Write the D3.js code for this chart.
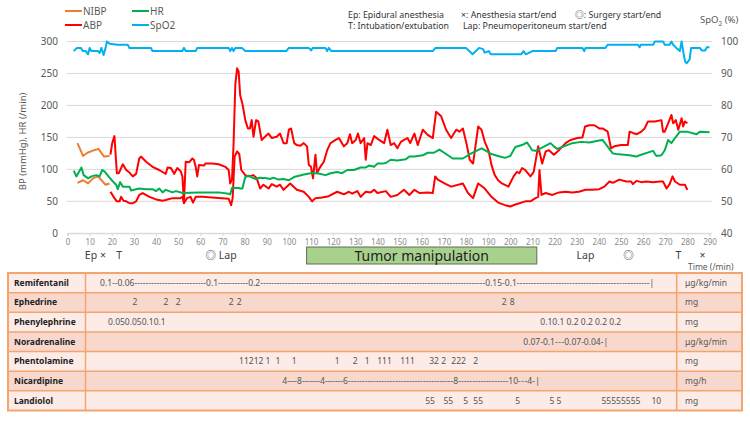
<!DOCTYPE html>
<html>
<head>
<meta charset="utf-8">
<script src="https://cdn.jsdelivr.net/npm/d3@7"></script>
<style>
  body { margin: 0; background: #fff; }
  svg { display: block; font-family: "Noto Sans", "Noto Sans CJK JP", sans-serif; }
</style>
</head>
<body>
<svg id="chart"></svg>
<script>
// vital signs, [time (min), value]
const nibpSys = [[4.5,141],[7,121],[9,126],[12,130],[14,132],[16.5,120],[19,121]];
const nibpDia = [[4.5,79],[7,83],[9.3,78],[11.5,86],[13.8,89],[17.2,76],[19,78]];

const abpSys = [[19.4,123],[20.2,141],[21.2,152],[22.3,94],[23.2,94],[25,108],[26.5,99],[28,95],[29.5,89],[31,93],
  [32.4,117],[33.2,120],[35.5,112],[38.4,104],[41.4,99],[44.4,93],[45.2,103],[46.7,102],[48.2,93],[49.6,102],
  [51.1,97],[51.9,89],[52.6,48],[53.4,112],[54.9,111],[56.4,117],[57.1,115],[57.9,104],[58.6,89],[59.4,107],
  [61.6,106],[62.3,109],[65.3,109],[68.3,108],[71.3,104],[72.8,99],[73.5,78],[74.3,84],[75,138],[75.8,232],
  [76.6,258],[77.3,253],[78,216],[79.1,201],[80.3,177],[81.5,164],[82.4,164],[83.2,177],[84,151],[85.2,177],
  [86.2,175],[87.7,146],[89.2,151],[90.8,156],[92.3,149],[94.5,151],[96,156],[97.6,141],[99,141],[100,162],
  [101,164],[102.4,141],[103.6,138],[105.2,137],[106.7,141],[108.2,136],[109,107],[110,104],[110.9,86],[112,123],
  [112.7,94],[114.2,104],[115.8,112],[117.3,130],[118.8,141],[121.1,146],[122.6,149],[124.8,136],[126.4,141],[127.6,155],
  [128.6,141],[130.2,146],[131.2,156],[132.4,141],[134,149],[134.7,115],[135.5,141],[137,138],[138.5,152],[140.8,146],
  [143,141],[144.5,162],[146,138],[147.6,141],[149,133],[150.6,143],[152,146],[153.6,149],[154.8,141],[156.7,156],
  [158.2,138],[160.5,162],[162.7,154],[165,149],[166.5,190],[168.8,183],[171,162],[173.3,149],[175.6,162],[177.1,159],
  [178.6,164],[180.2,141],[181.7,115],[183.2,109],[185.5,167],[187,162],[188.5,143],[190.3,128],[191.5,107],[193,91],
  [194.5,83],[196.2,78],[199.2,73],[201.5,89],[203,96],[204.1,94],[205.3,102],[206.8,99],[209.1,89],[210.6,96],
  [212.6,136],[213.7,120],[214.4,109],[216,128],[217.5,130],[219.7,123],[222,130],[225,141],[227.3,146],[230.3,149],
  [232.6,150],[233.8,167],[235.7,169],[238,169],[240.2,164],[241.7,164],[244,159],[245.5,133],[247,136],[250,138],
  [253.1,138],[253.9,159],[255.4,157],[257.2,155],[259.2,159],[260.7,164],[262.2,175],[265.3,175],[268.3,177],[269,159],
  [269.8,159],[271.3,172],[272.8,185],[273.6,172],[274.8,177],[275.9,162],[277.4,180],[278.1,167],[278.9,175],[280,172]];

const abpDia = [[19.4,65],[21.2,55],[22.3,50],[23.5,50],[24.2,57],[25.3,51],[26.5,50],[28,47],[29.5,47],[31,50],
  [32.4,60],[34,63],[37,57],[40,53],[43,51],[44.4,52],[47.4,55],[49,55],[51,55],[51.9,57],
  [52.6,47],[54,55],[55.6,57],[56.7,48],[57.9,57],[60.9,57],[65.3,56],[69.8,55],[72.8,54],[73.9,44],
  [74.6,55],[75.5,120],[76.6,128],[77.6,124],[78.5,99],[80.3,91],[81.8,89],[84,91],[85.5,86],[87,70],
  [88.5,76],[90.8,70],[92.3,77],[94.5,73],[96,76],[97.6,68],[100.6,78],[103.6,68],[106.7,65],[109,57],
  [110.5,50],[112,55],[115,56],[118,58],[121.8,65],[124.8,61],[127.1,65],[128.6,62],[130.9,66],[132.4,57],
  [134.7,65],[137,64],[138.5,68],[140,63],[143.8,66],[146,57],[149,60],[152,68],[154.4,60],[156.7,68],
  [159,63],[162.7,64],[165,63],[166.1,89],[167.3,84],[170.3,78],[173.3,73],[178.6,78],[180.9,63],[183.2,55],
  [185.5,78],[188.5,70],[191.5,57],[194.5,48],[197.7,44],[200,42],[202.3,45],[206.8,50],[209.1,50],[211.4,55],
  [212.6,57],[213.2,99],[214.1,60],[216,63],[219,60],[222,64],[225,65],[228,64],[231,65],[234,68],
  [237,68],[240.2,69],[242.5,73],[244.8,81],[246.3,79],[249.3,84],[252.4,81],[254.6,81],[255.4,77],[257,82],
  [259.2,80],[261.5,81],[264.5,80],[267.5,81],[269,81],[270.6,70],[272,77],[273.3,89],[274.4,81],[276.6,76],
  [278.9,76],[280,68]];

const hr = [[2.8,98],[4,89],[6.3,103],[7.3,91],[9.3,86],[10.8,89],[13,91],[14.5,89],[15.7,99],[16.7,97],
  [19,87],[20.5,81],[22,76],[22.7,69],[23.8,80],[25,73],[28,73],[28.7,67],[31,69],[32.4,70],
  [35.5,69],[38.4,69],[40,66],[41.4,70],[43,64],[44.4,68],[47.4,64],[49,66],[52,63],[59.4,64],
  [68.3,64],[72.8,62],[73.5,61],[74.3,71],[77.3,71],[78,70],[79,70],[80.3,88],[81.8,90],[84.7,85],
  [87,87],[90,86],[91.5,85],[93,87],[95.3,84],[97.6,85],[100,83],[102.3,88],[106.8,92],[109.8,94],
  [112.8,94],[116.6,91],[118.8,94],[121.8,96],[124,94],[126.4,99],[129.4,99],[132.4,103],[134.7,103],[136.2,106],
  [138.5,104],[140,109],[142.3,109],[143.8,110],[146,115],[149,114],[152.9,116],[154.4,120],[156.7,120],[160.5,122],
  [162.7,126],[165.5,126],[168,131],[171,124],[174,117],[178.6,117],[182.4,125],[187,133],[188.5,130],[191.5,124],
  [194.5,121],[197.7,118],[200,121],[202.3,135],[205.3,138],[207.6,142],[209.9,130],[211.4,129],[214.4,134],[218.2,141],
  [219.7,136],[221.2,132],[224.3,136],[228,141],[231.9,143],[235.7,142],[240.2,145],[241.7,146],[246.3,125],[247.8,124],
  [253.9,122],[256.9,120],[258.4,122],[264.5,129],[266,121],[268.3,122],[269.8,130],[271.3,146],[272.8,141],[274.4,149],
  [276.6,159],[279.7,159],[284.2,155],[285.7,159],[290,158]];

const spo2 = [[2.8,97],[4.3,98],[6,98],[7,97],[8.2,97],[9.3,96],[10,98],[10.8,97],[13.8,97],[14.5,96.4],
  [15.3,98],[16.3,95.8],[17.2,98],[17.8,100],[19,99.3],[22.7,99],[27.2,99],[28,98],[37.7,98],[38.4,97],
  [51.9,97],[52.6,98],[53.4,97],[57.9,97],[58.6,98],[72.8,98],[73.5,97],[74.3,98],[75,97],[75.8,98],
  [78.8,98],[80.3,97],[98.8,97],[100,98],[109,98],[110,97.2],[110.8,98],[116.5,98],[117.3,97],[118,98],
  [119.2,97],[165,97],[166.2,98],[180,98],[181.5,97],[183,96],[185.9,98],[187.7,97.6],[188.5,96.5],[190.3,97],
  [191.2,96],[196.2,96],[205,96],[206,97],[207,96],[210,97],[220.5,97],[221.2,98],[232.6,98],[233.4,97],
  [234,98],[243,98],[244,99],[257.7,99],[258.4,98.2],[259,99],[264.5,99],[265.3,100],[269,100],[269.8,99],
  [272,99],[272.8,100],[273.6,99],[275,98],[276.6,97],[277.4,100],[278.4,95.8],[279,93.7],[279.7,93.2],[281,94.3],
  [281.7,98],[285.7,98],[286.5,97.2],[288,97.2],[288.8,98.2],[290,98.2]];

// event marks under the time axis
const events = [[10.6,"Ep"],[16,"×"],[23.3,"T"],[69.4,"◎ Lap"],[234,"Lap"],[253.4,"◎"],[276,"T"],[286.8,"×"]];
const tumorSpan = [108, 212];

const xTicks = d3.range(0, 300, 10);
const bpTicks = d3.range(0, 301, 50);
const spo2Ticks = d3.range(40, 101, 10);

// drug table
const drugNames = ["Remifentanil","Ephedrine","Phenylephrine","Noradrenaline","Phentolamine","Nicardipine","Landiolol"];
const drugUnits = ["μg/kg/min","mg","mg","μg/kg/min","mg","mg/h","mg"];
const remifentanil = [[14.7,"0.1--0.06"],[62.6,"0.1"],[81.6,"0.2"],[188.7,"0.15-0.1"],[262.9,"|"]];
const ephedrine = [[30.5,"2"],[44.5,"2"],[50,"2"],[73.9,"2"],[77.5,"2"],[197.3,"2"],[200.9,"8"]];
const phenylephrine = [[18.3,"0.050.050.10.1"],[213.6,"0.10.1 0.2 0.2 0.2 0.2"]];
const noradrenaline = [[205.9,"0.07-0.1"],[224.4,"0.07-0.04-|"]];
const phentolamine = [[77.5,"11212 1"],[94,"1"],[101.3,"1"],[120.7,"1"],[128.8,"2"],[134.3,"1"],
  [139.9,"111"],[150.3,"111"],[163.4,"32 2"],[173.4,"222"],[183.3,"2"]];
const nicardipine = [[97,"4"],[103.7,"8"],[114.1,"4"],[124.5,"6"],[174.3,"8"],[199.1,"10"],[207.7,"4"],[211.3,"|"]];
const landiolol = [[161.6,"55"],[169.8,"55"],[178.8,"5"],[183.3,"55"],[202.3,"5"],[217.7,"5 5"],[241.2,"55555555"],[263.8,"10"]];

const drugTokens = [remifentanil, ephedrine, phenylephrine, noradrenaline, phentolamine, nicardipine, landiolol];
const drugDashed = [true, false, false, true, false, true, false];

const W = 750, H = 422;
const svg = d3.select("#chart").attr("width", W).attr("height", H);

const x = d3.scaleLinear().domain([0, 290]).range([67.5, 709.5]);
const yL = d3.scaleLinear().domain([0, 300]).range([233.3, 41.5]);
const yR = d3.scaleLinear().domain([40, 100]).range([233.3, 41.5]);

// grid
svg.append("g").selectAll("line").data(bpTicks).join("line")
    .attr("x1", 67).attr("x2", 712)
    .attr("y1", d => yL(d)).attr("y2", d => yL(d))
    .attr("stroke", "#d9d9d9").attr("stroke-width", 1);

// x axis
const xAxis = svg.append("g")
    .attr("transform", `translate(0,${yL(0)})`)
    .call(d3.axisBottom(x).tickValues(xTicks).tickSize(3).tickPadding(3));
xAxis.select(".domain").attr("stroke", "#d9d9d9");
xAxis.selectAll(".tick line").attr("stroke", "#d9d9d9");
xAxis.selectAll("text").attr("fill", "#8a8a8a").style("font-size", "8px")
    .style("font-family", "\"Noto Sans\", sans-serif");

// y labels
svg.append("g").selectAll("text").data(bpTicks).join("text")
    .attr("x", 58).attr("y", d => yL(d)).attr("dy", "0.35em")
    .attr("text-anchor", "end").attr("fill", "#595959").style("font-size", "10px")
    .text(d => d);
svg.append("g").selectAll("text").data(spo2Ticks).join("text")
    .attr("x", 721).attr("y", d => yR(d)).attr("dy", "0.35em")
    .attr("fill", "#595959").style("font-size", "10px")
    .text(d => d);

svg.append("text")
    .attr("transform", `translate(26,${(yL(0) + yL(300)) / 2 + 4}) rotate(-90)`)
    .attr("text-anchor", "middle").attr("fill", "#595959").style("font-size", "9.5px")
    .text("BP (mmHg), HR (/min)");

const spoTitle = svg.append("text").attr("x", 700).attr("y", 23)
    .attr("fill", "#595959").style("font-size", "9.5px");
spoTitle.append("tspan").text("SpO");
spoTitle.append("tspan").attr("dy", 2.5).style("font-size", "6.5px").text("2");
spoTitle.append("tspan").attr("dy", -2.5).text(" (%)");

// series
const lineL = d3.line().x(d => x(d[0])).y(d => yL(d[1]));
const lineR = d3.line().x(d => x(d[0])).y(d => yR(d[1]));
const series = [
  { data: nibpSys, line: lineL, color: "#ed7d31" },
  { data: nibpDia, line: lineL, color: "#ed7d31" },
  { data: abpSys, line: lineL, color: "#ff0000" },
  { data: abpDia, line: lineL, color: "#ff0000" },
  { data: hr, line: lineL, color: "#00b050" },
  { data: spo2, line: lineR, color: "#00b0f0" }
];
svg.append("g").selectAll("path").data(series).join("path")
    .attr("d", d => d.line(d.data))
    .attr("fill", "none").attr("stroke", d => d.color)
    .attr("stroke-width", 2).attr("stroke-linejoin", "round");

// legend
const legend = [
  { label: "NIBP", color: "#ed7d31", x: 65, y: 11 },
  { label: "HR", color: "#00b050", x: 132, y: 11 },
  { label: "ABP", color: "#ff0000", x: 65, y: 25 },
  { label: "SpO2", color: "#00b0f0", x: 132, y: 25 }
];
const lg = svg.append("g").selectAll("g").data(legend).join("g")
    .attr("transform", d => `translate(${d.x},${d.y})`);
lg.append("line").attr("x1", 0).attr("x2", 17)
    .attr("stroke", d => d.color).attr("stroke-width", 2);
lg.append("text").attr("x", 18).attr("dy", "0.35em")
    .attr("fill", "#595959").style("font-size", "10px").text(d => d.label);

// notes
const notes = [
  { text: "Ep: Epidural anesthesia", x: 348, y: 18 },
  { text: "×: Anesthesia start/end", x: 461, y: 18 },
  { text: "◎: Surgery start/end", x: 575, y: 18 },
  { text: "T: Intubation/extubation", x: 348, y: 29 },
  { text: "Lap: Pneumoperitoneum start/end", x: 463, y: 29 }
];
svg.append("g").selectAll("text").data(notes).join("text")
    .attr("x", d => d.x).attr("y", d => d.y)
    .attr("fill", "#333").style("font-size", "8.8px").text(d => d.text);

// events and tumor manipulation
svg.append("rect")
    .attr("x", x(tumorSpan[0])).attr("y", 247)
    .attr("width", x(tumorSpan[1]) - x(tumorSpan[0])).attr("height", 17)
    .attr("fill", "#a9d18e").attr("stroke", "#5f6f55").attr("stroke-width", 1);
svg.append("text")
    .attr("x", (x(tumorSpan[0]) + x(tumorSpan[1])) / 2).attr("y", 255.5).attr("dy", "0.36em")
    .attr("text-anchor", "middle").attr("fill", "#222").style("font-size", "14px")
    .text("Tumor manipulation");
svg.append("g").selectAll("text").data(events).join("text")
    .attr("x", d => x(d[0])).attr("y", 258.5)
    .attr("text-anchor", "middle").attr("fill", "#404040").style("font-size", "10.5px")
    .text(d => d[1]);
svg.append("text").attr("x", 688).attr("y", 269.5)
    .attr("fill", "#595959").style("font-size", "8.5px").text("Time (/min)");

// table
const tableTop = 273, tableBottom = 410.5, tableLeft = 8, tableRight = 742;
const nameCol = 85.5, unitCol = 676.7;
const row = d3.scaleBand().domain(drugNames).range([tableTop, tableBottom]);
const tbl = svg.append("g");
tbl.selectAll("rect").data(drugNames).join("rect")
    .attr("x", tableLeft).attr("y", d => row(d))
    .attr("width", tableRight - tableLeft).attr("height", row.bandwidth())
    .attr("fill", (d, i) => i % 2 ? "#f8d8cd" : "#fcebe6");
tbl.selectAll("line.rowline").data(drugNames.slice(1)).join("line").attr("class", "rowline")
    .attr("x1", tableLeft).attr("x2", tableRight)
    .attr("y1", d => row(d)).attr("y2", d => row(d))
    .attr("stroke", "#f4a56d").attr("stroke-width", 1.5);
tbl.selectAll("line.colline").data([nameCol, unitCol]).join("line").attr("class", "colline")
    .attr("x1", d => d).attr("x2", d => d)
    .attr("y1", tableTop).attr("y2", tableBottom)
    .attr("stroke", "#f4a56d").attr("stroke-width", 1.5);
tbl.append("rect")
    .attr("x", tableLeft).attr("y", tableTop)
    .attr("width", tableRight - tableLeft).attr("height", tableBottom - tableTop)
    .attr("fill", "none").attr("stroke", "#f4a56d").attr("stroke-width", 2);

tbl.selectAll("text.name").data(drugNames).join("text").attr("class", "name")
    .attr("x", 14).attr("y", d => row(d) + row.bandwidth() / 2).attr("dy", "0.35em")
    .attr("fill", "#222").style("font-size", "8.5px").style("font-weight", "bold")
    .text(d => d);
tbl.selectAll("text.unit").data(drugUnits).join("text").attr("class", "unit")
    .attr("x", 685).attr("y", (d, i) => row(drugNames[i]) + row.bandwidth() / 2).attr("dy", "0.35em")
    .attr("fill", "#555").style("font-size", "8.5px")
    .text(d => d);

drugNames.forEach((name, i) => {
  const yc = row(name) + row.bandwidth() / 2;
  const toks = drugTokens[i];
  const anchor = name === "Ephedrine" ? "middle" : "start";
  const g = tbl.append("g").attr("fill", "#555").style("font-size", "8.5px");
  const t = g.selectAll("text").data(toks).join("text")
      .attr("x", d => x(d[0])).attr("y", yc).attr("dy", "0.35em")
      .attr("text-anchor", anchor).text(d => d[1]);
  if (drugDashed[i]) {
    const probe = g.append("text").text("-");
    const dashW = probe.node().getComputedTextLength();
    probe.remove();
    const nodes = t.nodes();
    for (let k = 0; k < toks.length - 1; k++) {
      const end = x(toks[k][0]) + nodes[k].getComputedTextLength();
      const gap = x(toks[k + 1][0]) - end;
      const n = Math.max(0, Math.round(gap / dashW));
      g.append("text").attr("x", end).attr("y", yc).attr("dy", "0.35em")
          .attr("textLength", gap > 0 ? gap : null).attr("lengthAdjust", "spacing")
          .text("-".repeat(n));
    }
  }
});
</script>
</body>
</html>
